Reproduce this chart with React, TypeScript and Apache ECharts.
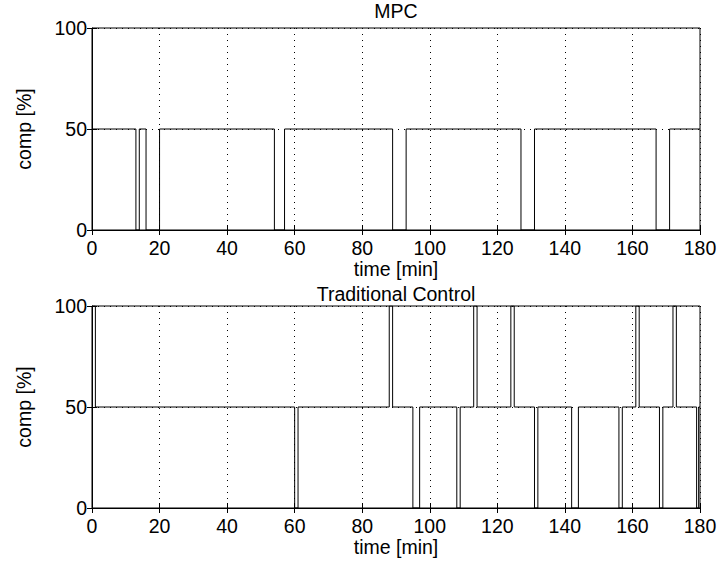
import React, { useEffect, useRef } from "react";
import * as echarts from "echarts";

const mpcTimes = [0, 13, 14, 16, 20, 54, 57, 89, 93, 127, 131, 167, 171, 180];
const mpcValues = [50, 0, 50, 0, 50, 0, 50, 0, 50, 0, 50, 0, 50, 50];

const tradTimes = [0, 1, 60, 61, 88, 89, 95, 97, 108, 109, 113, 114, 124, 125, 131, 132, 142, 144, 156, 157, 161, 162, 168, 169, 172, 173, 179, 179.6, 180];
const tradValues = [100, 50, 0, 50, 100, 50, 0, 50, 0, 50, 100, 50, 100, 50, 0, 50, 0, 50, 0, 50, 100, 50, 0, 50, 100, 50, 0, 50, 50];

const titles = ["MPC", "Traditional Control"];
const xName = "time [min]";
const yName = "comp [%]";

const FONT = "Liberation Sans, Arial, Helvetica, sans-serif";
const FS = 19.5;

export default function App() {
  const ref = useRef<HTMLDivElement>(null);
  useEffect(() => {
    if (!ref.current) return;
    const chart = echarts.init(ref.current, undefined, { renderer: "svg" });
    const grids = [
      { left: 92, right: 22, top: 28, height: 202, show: true, borderColor: "#000", borderWidth: 1 },
      { left: 92, right: 22, top: 306, height: 202, show: true, borderColor: "#000", borderWidth: 1 },
    ];
    const dotted = { show: true, lineStyle: { color: "#000", width: 1, type: [1, 5] as any } };
    const xMain = (gi: number) => ({
      type: "value",
      gridIndex: gi,
      min: 0,
      max: 180,
      interval: 20,
      position: "bottom",
      name: xName,
      nameLocation: "middle",
      nameGap: 28,
      nameTextStyle: { fontFamily: FONT, fontSize: FS, color: "#000" },
      axisLine: { show: true, onZero: false, lineStyle: { color: "#000", width: 1 } },
      axisTick: { show: true, inside: true, length: 5, lineStyle: { color: "#000" } },
      axisLabel: { show: true, margin: 8, fontFamily: FONT, fontSize: FS, color: "#000" },
      splitLine: dotted,
    });
    const xTop = (gi: number) => ({
      type: "value",
      gridIndex: gi,
      min: 0,
      max: 180,
      interval: 20,
      position: "top",
      axisLine: { show: false },
      axisTick: { show: true, inside: true, length: 5, lineStyle: { color: "#000" } },
      axisLabel: { show: false },
      splitLine: { show: false },
    });
    const yMain = (gi: number) => ({
      type: "value",
      gridIndex: gi,
      min: 0,
      max: 100,
      interval: 50,
      position: "left",
      name: yName,
      nameLocation: "middle",
      nameGap: 58,
      nameTextStyle: { fontFamily: FONT, fontSize: FS, color: "#000" },
      axisLine: { show: true, onZero: false, lineStyle: { color: "#000", width: 1 } },
      axisTick: { show: true, inside: true, length: 5, lineStyle: { color: "#000" } },
      axisLabel: { show: true, margin: 5, fontFamily: FONT, fontSize: FS, color: "#000" },
      splitLine: dotted,
    });
    const yRight = (gi: number) => ({
      type: "value",
      gridIndex: gi,
      min: 0,
      max: 100,
      interval: 50,
      position: "right",
      axisLine: { show: false },
      axisTick: { show: true, inside: true, length: 5, lineStyle: { color: "#000" } },
      axisLabel: { show: false },
      splitLine: { show: false },
    });
    const toPairs = (t: number[], v: number[]) => t.map((x, i) => [x, v[i]]);
    chart.setOption({
      animation: false,
      backgroundColor: "#fff",
      title: [
        { text: titles[0], left: 396, textAlign: "center", top: 1, padding: 0, textStyle: { fontFamily: FONT, fontSize: FS, fontWeight: "normal", color: "#000" } },
        { text: titles[1], left: 396, textAlign: "center", top: 284, padding: 0, textStyle: { fontFamily: FONT, fontSize: FS, fontWeight: "normal", color: "#000" } },
      ],
      grid: grids,
      xAxis: [xMain(0), xMain(1), xTop(0), xTop(1)],
      yAxis: [yMain(0), yMain(1), yRight(0), yRight(1)],
      series: [
        {
          type: "line",
          xAxisIndex: 0,
          yAxisIndex: 0,
          step: "end",
          symbol: "none",
          lineStyle: { color: "#000", width: 1 },
          data: toPairs(mpcTimes, mpcValues),
        },
        {
          type: "line",
          xAxisIndex: 1,
          yAxisIndex: 1,
          step: "end",
          symbol: "none",
          lineStyle: { color: "#000", width: 1 },
          data: toPairs(tradTimes, tradValues),
        },
      ],
    });
    return () => chart.dispose();
  }, []);
  return <div ref={ref} style={{ width: 722, height: 562, position: "absolute", left: 0, top: 0 }} />;
}
